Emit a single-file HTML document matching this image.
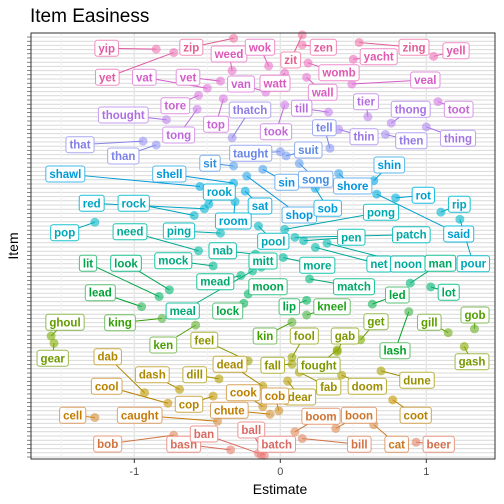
<!DOCTYPE html>
<html><head><meta charset="utf-8"><style>
html,body{margin:0;padding:0;background:#fff;}
svg{display:block;font-family:"Liberation Sans",sans-serif;}
</style></head><body>
<svg id="chart" width="504" height="504" viewBox="0 0 504 504">
<text x="30" y="22" font-size="19" fill="#000">Item Easiness</text>
<text x="280" y="494" font-size="14" text-anchor="middle" fill="#000">Estimate</text>
<text transform="translate(18,246) rotate(-90)" font-size="14" text-anchor="middle" fill="#000">Item</text>
<g id="grid"></g><g id="marks"></g>
<rect x="31" y="33" width="464" height="426" fill="none" stroke="#333" stroke-width="1"/>
</svg>
<script>
const words=["yip","zip","yet","weed","wok","zit","zen","zing","yell","yacht","womb","wall","veal","watt","van","vat","vet","tore","thought","tong","top","thatch","that","than","tier","thong","toot","till","took","tell","thin","then","thing","taught","suit","sit","sin","song","shop","shore","shin","sob","shawl","shell","rook","red","rock","sat","room","rot","rip","said","pop","need","ping","pong","pour","pool","pen","patch","nab","net","noon","mock","mitt","more","man","mead","moon","meal","match","lit","look","lead","lock","led","lot","lip","kneel","king","ken","kin","ghoul","gear","get","gab","gill","gob","gash","lash","feel","fool","fall","fought","fab","doom","dune","dear","dab","dead","dash","dill","cool","cook","cop","cob","chute","cell","caught","coot","boom","boon","cat","bill","beer","bob","bash","ban","ball","batch"];
const estimates=[-0.85,-0.32,-0.73,-0.33,-0.08,0.15,0.15,0.54,1.05,0.50,0.19,0.18,0.49,0.03,-0.10,-0.50,-0.41,-0.56,-0.78,-0.57,-0.39,-0.33,-0.94,-0.85,0.60,0.76,1.08,0.33,0.03,0.34,0.40,0.72,1.00,0.00,0.04,-0.32,-0.12,0.13,-0.23,0.40,0.64,0.24,-0.55,-0.32,-0.49,-0.52,-0.59,-0.24,-0.31,0.79,1.10,0.66,-1.27,-0.56,-0.41,0.03,1.23,-0.15,0.16,0.10,-0.17,0.24,0.32,-0.46,-0.13,0.02,0.89,-0.27,-0.22,-0.19,0.20,-0.83,-0.76,-0.95,-0.25,0.63,1.03,0.18,0.18,-0.81,-0.58,0.08,-1.57,-1.55,0.55,0.39,1.15,1.33,1.26,0.88,-0.22,0.08,0.08,0.39,0.13,0.42,0.69,0.05,-0.93,-0.12,-0.69,-0.42,-0.77,-0.12,-0.46,-0.01,-0.07,-1.27,-0.43,0.77,0.10,0.38,0.64,0.15,0.93,-0.73,-0.34,-0.15,-0.11,-0.13];
const ranks=[97.1,99.7,96.3,92.0,93.1,100.5,98.1,98.7,95.4,94.7,93.8,90.4,88.8,91.4,86.9,87.8,89.5,86.1,80.3,82.8,85.3,76.0,75.2,74.3,81.0,79.5,84.6,82.1,83.8,73.5,78.0,76.8,78.6,72.7,71.7,69.3,68.5,69.9,66.9,67.5,65.8,64.0,64.4,65.2,60.2,59.1,57.5,63.3,60.8,61.7,58.3,62.6,55.9,49.1,53.3,54.2,56.6,55.0,51.5,52.3,48.3,49.9,50.9,45.5,45.2,47.5,41.4,43.2,38.8,44.3,42.4,38.2,39.8,35.8,36.6,36.4,40.5,37.3,33.8,33.0,31.4,32.1,28.8,27.1,27.9,25.1,29.6,30.5,26.3,34.6,22.9,23.7,22.1,25.5,20.2,19.5,20.5,18.1,15.3,16.9,16.1,18.6,12.8,12.0,14.5,11.0,10.2,9.4,8.5,13.6,6.0,6.8,7.7,4.4,3.5,5.2,1.7,0.9,0.4,0.5];
const xTicks=[-1,0,1];
const xTickLabels=["-1","0","1"];
// label layout (repel positions, pixels) — layout only, not data
const labelX=[106.7,191.3,107.3,229,260,290.7,323.3,414,456,378.7,339,322.7,425.3,275,241,144.3,188,175.3,123.3,178.7,216,250,80,123.3,366,410.7,458.7,301.7,276,324.3,364,411.3,458,250.7,308.3,210,286.7,315.7,299.3,352.7,389.3,327.7,65.3,169.3,219.3,91.7,133.7,260,233.3,423.3,459.3,458.7,64.7,130,179,381,473.3,273.3,351.3,411.3,222.7,379,408,173.3,263,317.3,440.3,215.3,268,182.7,354,88,126,100.3,227.7,397.3,448.7,289.3,332,120,163.3,265,65,52.7,376,345,429.3,475,472,395,204.3,304.3,272.7,318.7,328.7,367.3,417,300,107.7,230,152.3,194.7,106.7,243.3,189,275,229.3,72.7,139.7,415.7,321,359,396.7,359.3,438.7,107.7,183.7,204,251.3,276.7];
const labelY=[48.3,47.3,77.3,54,47.3,60,47.3,47.3,50.7,56.7,72.7,92.3,80,83.3,84,77.3,77.3,105.7,115,135,124.3,110,144.7,156,101.7,109.3,109.3,108.3,131.7,127.7,136.7,140.7,138.3,153.3,150,163.3,182.3,179.3,215,186,165,208.3,174,174,192,203.3,203.3,206,221,195.3,204.3,234,232.7,231.7,231,212.3,263.7,241.3,237.3,234.7,250.7,264,264,260.7,261,265.3,263.3,281.7,286.7,311,286.7,263.3,263.3,292.7,311,295,292.3,306.7,306.7,322.7,345,336,322.3,358.3,321.7,336,322.3,315,361.7,350.7,340.3,336,365.3,365.3,387,386.3,380.3,397,356.7,364.3,374.7,374.7,386.3,392.7,404.3,396,410.3,415.3,415.3,415.3,416.3,415.3,444.3,444.3,444.3,444,444.3,434,430,444.3];

const NS="http://www.w3.org/2000/svg";
const X0=280.3,XS=146,Y0=457,YS=4.2;
function xScale(v){return X0+v*XS;}
function yScale(r){return Y0-r*YS;}
function hue(r){return 12+r*3.4;}
function hcl(h,c,l,a){
  const hr=h*Math.PI/180,u=c*Math.cos(hr),v=c*Math.sin(hr);
  const Xn=95.047,Yn=100,Zn=108.883;
  const un=4*Xn/(Xn+15*Yn+3*Zn),vn=9*Yn/(Xn+15*Yn+3*Zn);
  const Y=Yn*Math.pow((l+16)/116,3);
  const up=u/(13*l)+un,vp=v/(13*l)+vn;
  const X=Y*9*up/(4*vp),Z=Y*(12-3*up-20*vp)/(4*vp);
  const x=X/100,y=Y/100,z=Z/100;
  let r=3.2406*x-1.5372*y-0.4986*z,g=-0.9689*x+1.8758*y+0.0415*z,b=0.0557*x-0.2040*y+1.0570*z;
  const gm=t=>{t=Math.max(0,Math.min(1,t));return Math.round(255*(t<=0.0031308?12.92*t:1.055*Math.pow(t,1/2.4)-0.055));};
  return `rgba(${gm(r)},${gm(g)},${gm(b)},${a})`;
}
function mk(tag,attrs,parent){const e=document.createElementNS(NS,tag);for(const k in attrs)e.setAttribute(k,attrs[k]);parent.appendChild(e);return e;}
const grid=document.getElementById('grid'),marks=document.getElementById('marks');
for(let i=0;i<=100;i++){
  const y=Y0-i*YS;
  const gl=mk('line',{x1:31,x2:495,y1:y,y2:y,stroke:'#d9d9d9','stroke-width':1},grid);
  
  
  const tk=mk('line',{x1:27,x2:31,y1:y,y2:y,stroke:'#333','stroke-width':0.6},grid);
  
  
}
[-1.5,-0.5,0.5].forEach(v=>{const l=mk('line',{x1:xScale(v),x2:xScale(v),y1:33,y2:459,stroke:'#f2f2f2','stroke-width':1},grid);
  
  });
xTicks.forEach((v,i)=>{
  const l=mk('line',{x1:xScale(v),x2:xScale(v),y1:33,y2:459,stroke:'#e6e6e6','stroke-width':1.5},grid);
  
  
  const t=mk('line',{x1:xScale(v),x2:xScale(v),y1:459,y2:463,stroke:'#333'},grid);
  
  
  const tx=mk('text',{x:xScale(v),y:475,'font-size':11,'text-anchor':'middle',fill:'#4d4d4d'},grid);
  tx.textContent=xTickLabels[i];
  
  
});
const segG=mk('g',{},marks),ptG=mk('g',{},marks),lbG=mk('g',{},marks);
words.forEach((w,i)=>{
  const px=xScale(estimates[i]),py=yScale(ranks[i]),h=hue(ranks[i]);
  const col=hcl(h,85,58,1);
  const pt=mk('circle',{cx:px,cy:py,r:4.5,fill:hcl(h,80,65,0.6)},ptG);
  
  
  const g=mk('g',{},lbG);
  
  
  const rect=mk('rect',{rx:2.5,ry:2.5,fill:'rgba(255,255,255,0.92)',stroke:hcl(h,70,68,0.9),'stroke-width':1},g);
  const t=mk('text',{x:labelX[i],y:labelY[i]+4,'font-size':11.5,'font-weight':'bold','text-anchor':'middle',fill:col},g);
  t.textContent=w;
  const tw=t.getComputedTextLength();
  const bw=tw+7,bh=16,bx=labelX[i]-bw/2,by=labelY[i]-bh/2;
  rect.setAttribute('x',bx);rect.setAttribute('y',by);rect.setAttribute('width',bw);rect.setAttribute('height',bh);
  const dx=px-labelX[i],dy=py-labelY[i];
  if(Math.abs(dx)>bw/2||Math.abs(dy)>bh/2){
    const s=Math.min(Math.abs(dx)>0?(bw/2)/Math.abs(dx):1e9,Math.abs(dy)>0?(bh/2)/Math.abs(dy):1e9);
    const ex=labelX[i]+dx*s,ey=labelY[i]+dy*s;
    const sg=mk('line',{x1:px,y1:py,x2:ex,y2:ey,stroke:col,'stroke-width':1},segG);
    
    
  }
});
</script>
</body></html>
